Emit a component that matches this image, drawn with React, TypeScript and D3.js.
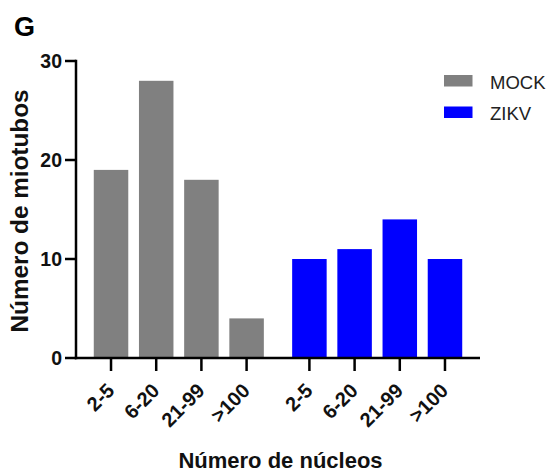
import React from "react";
import * as d3 from "d3";

// Number of myotubes per nuclei-count class, per condition
const categories: string[] = ["2-5", "6-20", "21-99", ">100"];
const mockValues: number[] = [19, 28, 18, 4];
const zikvValues: number[] = [10, 11, 14, 10];
const seriesNames: string[] = ["MOCK", "ZIKV"];
const seriesColors: string[] = ["#808080", "#0000ff"];
const yTicks: number[] = [0, 10, 20, 30];

const W = 552;
const H = 475;
const FONT = "'Liberation Sans', Arial, Helvetica, sans-serif";

// layout
const axisLeft = 76;
const axisRight = 480;
const baseY = 358;
const topY = 61;
const groupGap = 0.39; // extra spacing (in slot units) between the two groups
const pad = 0.775;
const barWidth = 34.5;

export default function App() {
  const groups = [mockValues, zikvValues];
  const slotCount = categories.length;
  const lastSlot = (slotCount - 1) * 2 + 1 + groupGap;

  const x = d3
    .scaleLinear()
    .domain([-pad, lastSlot + pad])
    .range([axisLeft, axisRight]);
  const y = d3.scaleLinear().domain([0, 30]).range([baseY, topY]);

  const bars = groups.flatMap((vals, g) =>
    vals.map((v, i) => {
      const slot = g * (slotCount + groupGap) + i;
      return { slot, v, g, label: categories[i] };
    })
  );

  return (
    <svg
      width={W}
      height={H}
      viewBox={`0 0 ${W} ${H}`}
      style={{ position: "absolute", left: 0, top: 0, background: "#fff" }}
      fontFamily={FONT}
    >
      <rect x={0} y={0} width={W} height={H} fill="#fff" />

      {/* panel letter */}
      <text x={14} y={36} fontSize={27} fontWeight="bold" fill="#000">
        G
      </text>

      {/* bars */}
      {bars.map((b, k) => (
        <rect
          key={k}
          x={x(b.slot) - barWidth / 2}
          y={y(b.v)}
          width={barWidth}
          height={y(0) - y(b.v)}
          fill={seriesColors[b.g]}
        />
      ))}

      {/* y axis */}
      <line x1={axisLeft} x2={axisLeft} y1={y(30) - 1.2} y2={baseY + 1.2} stroke="#000" strokeWidth={2.5} />
      {yTicks.map((t) => (
        <g key={t}>
          <line x1={axisLeft - 11} x2={axisLeft} y1={y(t)} y2={y(t)} stroke="#000" strokeWidth={2.5} />
          <text
            x={62}
            y={y(t)}
            dy="0.36em"
            textAnchor="end"
            fontSize={19.5}
            fontWeight="bold"
            fill="#111"
          >
            {t}
          </text>
        </g>
      ))}

      {/* x axis */}
      <line x1={axisLeft - 1.2} x2={axisRight} y1={baseY} y2={baseY} stroke="#000" strokeWidth={2.5} />
      {bars.map((b, k) => (
        <g key={`t${k}`}>
          <line x1={x(b.slot)} x2={x(b.slot)} y1={baseY} y2={baseY + 13} stroke="#000" strokeWidth={2.5} />
          <text
            transform={`translate(${x(b.slot) + 4.5},${baseY + 34}) rotate(-45)`}
            textAnchor="end"
            fontSize={20}
            fontWeight="bold"
            fill="#111"
          >
            {b.label}
          </text>
        </g>
      ))}

      {/* axis titles */}
      <text
        transform={`translate(28,${211}) rotate(-90)`}
        textAnchor="middle"
        fontSize={24.3}
        fontWeight="bold"
        fill="#111"
      >
        Número de miotubos
      </text>
      <text x={280.5} y={468} textAnchor="middle" fontSize={22} fontWeight="bold" fill="#111">
        Número de núcleos
      </text>

      {/* legend */}
      {seriesNames.map((name, i) => (
        <g key={name} transform={`translate(444,${75 + i * 31.5})`}>
          <rect x={0} y={0} width={28.5} height={11.5} fill={seriesColors[i]} />
          <text x={46} y={13.5} fontSize={18.5} fill="#222">
            {name}
          </text>
        </g>
      ))}
    </svg>
  );
}
